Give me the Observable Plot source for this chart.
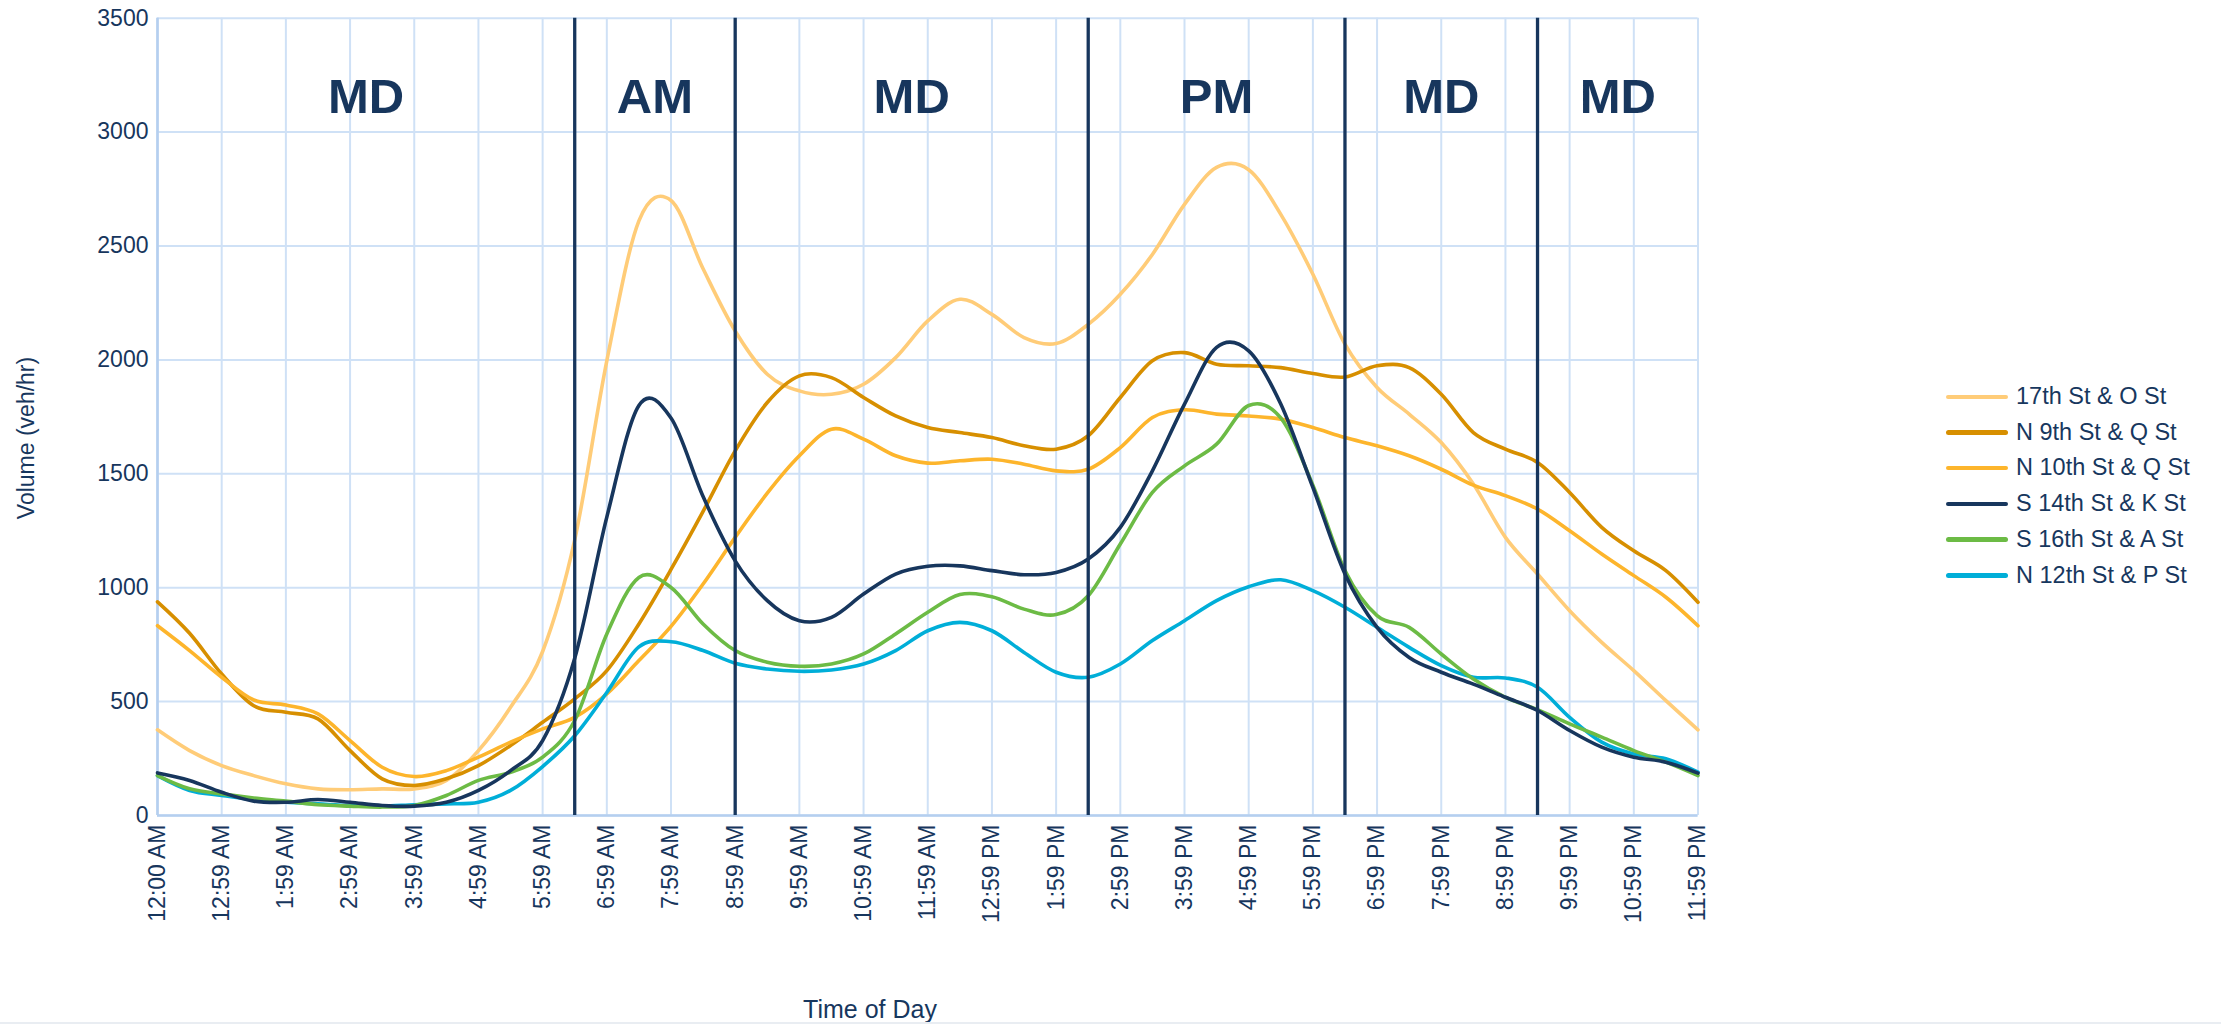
<!DOCTYPE html>
<html>
<head>
<meta charset="utf-8">
<script src="https://cdn.jsdelivr.net/npm/d3@7"></script>
<script src="https://cdn.jsdelivr.net/npm/@observablehq/plot@0.6"></script>
<style>
  html, body { margin: 0; padding: 0; background: #ffffff; }
  body { font-family: "Liberation Sans", Arial, sans-serif; color: #17375E; }
  #wrap { position: relative; width: 2221px; height: 1025px; overflow: hidden; }
  #chart { position: absolute; left: 0; top: 0; }
  .ytitle { position: absolute; left: 25.5px; top: 438px; font-size: 23px; line-height: 1; white-space: nowrap;
            transform: translate(-50%, -50%) rotate(-90deg); }
  .xtitle { position: absolute; left: 870px; top: 997px; font-size: 25px; line-height: 1; white-space: nowrap;
            transform: translateX(-50%); }
  .legend { position: absolute; left: 1946px; top: 379px; }
  .legend .row { display: flex; align-items: center; height: 35.7px; }
  .legend .sw { width: 62px; height: 4.5px; border-radius: 2.5px; margin-right: 8px; }
  .legend .lab { font-size: 23.5px; line-height: 1; white-space: nowrap; }
  .bottomline { position: absolute; left: 0; top: 1022px; width: 2221px; height: 2px; background: #e9edf2; }
</style>
</head>
<body>
<div id="wrap">
  <div id="chart"></div>
  <div class="ytitle">Volume (veh/hr)</div>
  <div class="xtitle">Time of Day</div>
  <div class="legend" id="legend"></div>
  <div class="bottomline"></div>
</div>
<script>
// ---------- data ----------
const hours = [0,0.5,1,1.5,2,2.5,3,3.5,4,4.5,5,5.5,6,6.5,7,7.5,8,8.5,9,9.5,10,10.5,11,11.5,12,
               12.5,13,13.5,14,14.5,15,15.5,16,16.5,17,17.5,18,18.5,19,19.5,20,20.5,21,21.5,22,22.5,23,23.5,24];

const tickHours = [0,1,2,3,4,5,6,7,8,9,10,11,12,13,14,15,16,17,18,19,20,21,22,23,24];
const tickLabels = ["12:00 AM","12:59 AM","1:59 AM","2:59 AM","3:59 AM","4:59 AM","5:59 AM","6:59 AM",
  "7:59 AM","8:59 AM","9:59 AM","10:59 AM","11:59 AM","12:59 PM","1:59 PM","2:59 PM","3:59 PM",
  "4:59 PM","5:59 PM","6:59 PM","7:59 PM","8:59 PM","9:59 PM","10:59 PM","11:59 PM"];

const yTicks = [0,500,1000,1500,2000,2500,3000,3500];

const st17O = [376,285,219,175,139,117,113,117,117,154,285,475,720,1210,1996,2610,2700,2400,2127,1937,1864,1849,1893,2010,2171,
               2266,2200,2098,2072,2156,2288,2463,2683,2845,2835,2639,2376,2069,1879,1762,1637,1455,1221,1060,899,760,636,504,376];
const n9Q   = [938,800,621,482,453,424,285,161,132,161,219,307,409,512,636,841,1080,1335,1601,1813,1930,1922,1835,1754,1703,
               1681,1659,1623,1608,1667,1835,1996,2032,1981,1974,1966,1940,1925,1974,1966,1849,1681,1608,1550,1418,1265,1162,1075,936];
const n10Q  = [833,724,607,507,485,446,329,212,171,197,256,322,380,431,534,680,830,1016,1221,1415,1579,1696,1652,1579,1547,
               1557,1564,1542,1513,1520,1615,1747,1781,1762,1754,1740,1703,1659,1623,1579,1520,1450,1404,1345,1250,1148,1053,958,833];
const s14K  = [187,154,102,63,58,70,58,44,41,58,110,197,329,690,1310,1800,1745,1400,1118,943,855,870,972,1060,1094,
               1096,1075,1057,1067,1126,1265,1513,1806,2055,2040,1806,1440,1060,826,694,629,577,519,461,373,300,256,234,186];
const s16A  = [175,117,95,77,63,47,41,37,44,88,154,190,256,417,797,1045,1001,841,724,673,655,665,709,797,892,
               970,960,906,882,965,1192,1418,1535,1630,1800,1745,1450,1075,877,826,709,599,519,465,402,344,285,234,175];
const n12P  = [175,110,88,69,58,51,44,41,47,51,58,110,215,350,540,740,763,724,668,643,633,639,665,724,811,
               848,811,716,629,607,665,768,855,943,1004,1035,987,914,826,738,658,607,604,563,431,322,270,249,190];

const seriesNames  = ["17th St & O St","N 9th St & Q St","N 10th St & Q St","S 14th St & K St","S 16th St & A St","N 12th St & P St"];
const seriesValues = [st17O, n9Q, n10Q, s14K, s16A, n12P];
const seriesColors = ["#FFCC78","#D78F00","#FDB52C","#17365D","#6CBB45","#00AED8"];
const drawOrder    = ["17th St & O St","N 9th St & Q St","N 10th St & Q St","N 12th St & P St","S 16th St & A St","S 14th St & K St"];

const periodNames  = ["MD","AM","MD","PM","MD","MD"];
const periodStarts = [0,6.5,9,14.5,18.5,21.5];
const periodEnds   = [6.5,9,14.5,18.5,21.5,24];

// ---------- build tables ----------
const rows = drawOrder.flatMap(name => {
  const vals = seriesValues[seriesNames.indexOf(name)];
  return vals.map((v, i) => ({hour: hours[i], volume: v, name}));
});
const periods = periodNames.map((n, i) => ({name: n, start: periodStarts[i], end: periodEnds[i]}));
const boundaries = periodStarts.slice(1);

const gridColor = "#CFE1F6";
const axisColor = "#B5CFEF";
const navy = "#17365D";

const chart = Plot.plot({
  width: 2221,
  height: 1025,
  marginLeft: 157,
  marginRight: 523.5,
  marginTop: 17.7,
  marginBottom: 210,
  x: {domain: [0, 24], axis: null},
  y: {domain: [0, 3500], axis: null},
  color: {domain: seriesNames, range: seriesColors},
  style: {fontFamily: '"Liberation Sans", Arial, sans-serif', fontSize: "23px", color: navy, background: "transparent", overflow: "visible"},
  marks: [
    Plot.gridX(tickHours, {stroke: gridColor, strokeOpacity: 1, strokeWidth: 2}),
    Plot.gridY(yTicks, {stroke: gridColor, strokeOpacity: 1, strokeWidth: 2}),
    Plot.ruleX([0], {stroke: axisColor, strokeWidth: 2.6}),
    Plot.ruleY([0], {stroke: axisColor, strokeWidth: 2.6}),
    Plot.lineY(rows, {x: "hour", y: "volume", z: "name", stroke: "name", strokeWidth: 3.6,
                      curve: "cardinal", tension: 0, strokeLinejoin: "round"}),
    Plot.ruleX(boundaries, {stroke: navy, strokeWidth: 3.3}),
    Plot.text(periods, {x: d => (d.start + d.end) / 2, text: "name", frameAnchor: "top", dy: 95, lineAnchor: "bottom",
                        fontSize: 49, fontWeight: "bold", fill: navy}),
    Plot.axisX({ticks: tickHours, tickFormat: d => tickLabels[tickHours.indexOf(d)], tickRotate: -90, tickSize: 0, tickPadding: 9,
                fontSize: 23, label: null, fill: navy}),
    Plot.axisY({ticks: yTicks, tickFormat: d => String(d), tickSize: 0, tickPadding: 9, fontSize: 23, label: null, fill: navy})
  ]
});
document.getElementById("chart").appendChild(chart);

// ---------- legend ----------
const legend = document.getElementById("legend");
seriesNames.forEach((n, i) => {
  const row = document.createElement("div");
  row.className = "row";
  const sw = document.createElement("div");
  sw.className = "sw";
  sw.style.background = seriesColors[i];
  const lab = document.createElement("div");
  lab.className = "lab";
  lab.textContent = n;
  row.appendChild(sw);
  row.appendChild(lab);
  legend.appendChild(row);
});
</script>
</body>
</html>
